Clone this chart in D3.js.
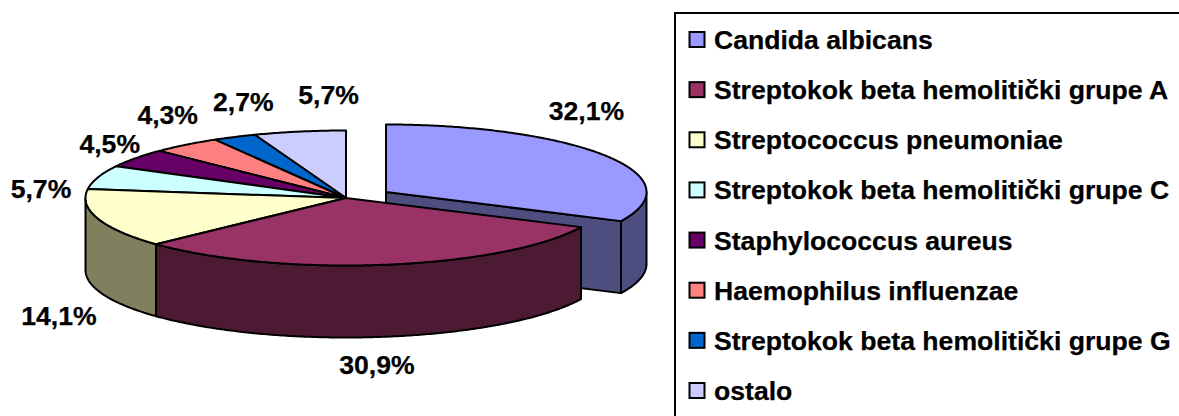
<!DOCTYPE html>
<html><head><meta charset="utf-8">
<script src="https://cdn.jsdelivr.net/npm/d3@7"></script>
<style>html,body{margin:0;padding:0;background:#fff;overflow:hidden}svg{display:block}text{font-family:"Liberation Sans",Arial,sans-serif;font-weight:bold;fill:#000}</style>
</head><body>
<svg id="c" width="1179" height="416"></svg>
<script>
const categories = ["Candida albicans","Streptokok beta hemolitički grupe A","Streptococcus pneumoniae","Streptokok beta hemolitički grupe C","Staphylococcus aureus","Haemophilus influenzae","Streptokok beta hemolitički grupe G","ostalo"];
const values = [32.1,30.9,14.1,5.7,4.5,4.3,2.7,5.7];
const colors = ["#9999FF","#993366","#FFFFCC","#CCFFFF","#660066","#FF8080","#0066CC","#CCCCFF"];
const wallColors = ["#4D4D80","#4D1A33","#80805F","#668080","#330033","#804040","#003366","#666680"];
const labelNudge = [[-20,-44],[-9,101],[-39,98],[-57,13],[-26,-13],[-18,-29],[9,-34],[29,-36]];

const svg = d3.select("#c");
const rx = 260.5, ry = 67.5, depth = 72;
const mainC = [346,198], explC = [386,192];
const centerOf = i => i === 0 ? explC : mainC;
const arcs = d3.pie().sort(null).value(d => d)(values);
const pt = (c,a,dy=0) => [c[0]+rx*Math.sin(a), c[1]-ry*Math.cos(a)+dy];
const samples = (a0,a1) => { const n = Math.max(2,Math.ceil(Math.abs(a1-a0)/0.01)); return d3.range(n+1).map(k => a0+(a1-a0)*k/n); };
const line = d3.line();
const HALF = Math.PI/2, FRONT_END = 3*Math.PI/2;
const style = s => s.attr("stroke","#000").attr("stroke-width",2).attr("stroke-linejoin","round");

function drawSlice(i){
  const c = centerOf(i), a = arcs[i], g = svg.append("g");
  const lo = Math.max(a.startAngle,HALF), hi = Math.min(a.endAngle,FRONT_END);
  if(i===0){
    const e = pt(c,a.endAngle);
    g.append("path").attr("d",line([c,e,[e[0],e[1]+depth],[c[0],c[1]+depth]])+"Z").attr("fill",wallColors[i]).call(style);
  }
  if(lo<hi){
    const top = samples(lo,hi).map(t=>pt(c,t));
    const bot = samples(hi,lo).map(t=>pt(c,t,depth));
    g.append("path").attr("d",line(top.concat(bot))+"Z").attr("fill",wallColors[i]).call(style);
  }
  const face = [c].concat(samples(a.startAngle,a.endAngle).map(t=>pt(c,t)));
  g.append("path").attr("d",line(face)+"Z").attr("fill",colors[i]).call(style);
}
drawSlice(0);
[7,6,5,4,3,2,1].forEach(drawSlice);

const fmt = v => v.toFixed(1).replace(".",",")+"%";
const textStyle = s => s.attr("font-size",26.6).attr("dominant-baseline","central").attr("stroke","#000").attr("stroke-width",0.25);
arcs.forEach((a,i)=>{
  const m = (a.startAngle+a.endAngle)/2, p = pt(centerOf(i),m);
  svg.append("text").attr("x",p[0]+labelNudge[i][0]).attr("y",p[1]+labelNudge[i][1]-1)
    .attr("text-anchor","middle").call(textStyle).text(fmt(values[i]));
});

// legend
svg.append("rect").attr("x",675).attr("y",13).attr("width",520).attr("height",420).attr("fill","#fff").attr("stroke","#000").attr("stroke-width",2);
const rowY = d3.scaleLinear().domain([0,7]).range([40,391]);
categories.forEach((name,i)=>{
  const y = rowY(i);
  svg.append("rect").attr("x",689.5).attr("y",y-8).attr("width",15).attr("height",15).attr("fill",colors[i]).attr("stroke","#000").attr("stroke-width",2);
  svg.append("text").attr("x",714).attr("y",y).call(textStyle).text(name);
});
</script>
</body></html>
